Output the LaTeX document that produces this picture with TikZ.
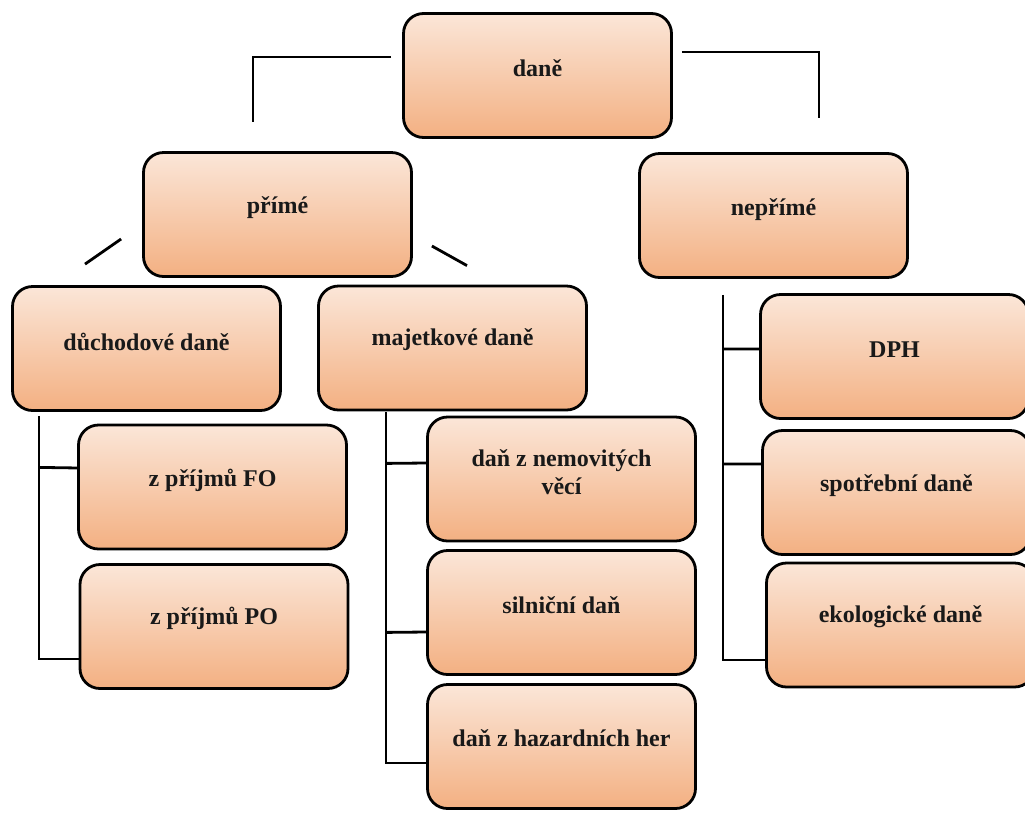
\documentclass[tikz,border=0pt]{standalone}
\usepackage{fontspec}
\setmainfont{Liberation Serif}
\usetikzlibrary{calc}
\definecolor{peachTop}{RGB}{251,230,216}
\definecolor{peachBot}{RGB}{243,176,130}
\tikzset{
  taxbox/.style={draw=black, line width=2.8pt, rounded corners=20pt,
    top color=peachTop, bottom color=peachBot,
    minimum width=268pt, minimum height=124pt, inner sep=0pt},
  lbl/.style={font=\fontsize{24}{28}\selectfont\bfseries, align=center, text=black!90, inner sep=0pt},
  conn/.style={line width=2.8pt, draw=black}
}
\begin{document}
\begin{tikzpicture}[x=1pt,y=-1pt]
\useasboundingbox (0,0) rectangle (1025,823);
\clip (0,0) rectangle (1025,823);
% boxes
\node[taxbox] (dane) at (537.5,75.5) {};
\node[taxbox] (prime) at (277.5,214.5) {};
\node[taxbox] (neprime) at (773.5,215.5) {};
\node[taxbox] (duch) at (146.5,348.5) {};
\node[taxbox] (majet) at (452.5,348) {};
\node[taxbox] (dph) at (894.5,356.5) {};
\node[taxbox] (spotr) at (896.5,492.5) {};
\node[taxbox] (ekol) at (900.5,625) {};
\node[taxbox] (fo) at (212.5,487) {};
\node[taxbox] (po) at (214,626.5) {};
\node[taxbox] (nemov) at (561.5,479) {};
\node[taxbox] (siln) at (561.5,612.5) {};
\node[taxbox] (hazard) at (561.5,746.5) {};
% labels
\node[lbl] (dane-t) at ([yshift=7pt]dane.center) {daně};
\node[lbl] (prime-t) at ([yshift=7pt]prime.center) {přímé};
\node[lbl] (neprime-t) at ([yshift=6pt]neprime.center) {nepřímé};
\node[lbl] (duch-t) at ([yshift=7pt]duch.center) {důchodové daně};
\node[lbl] (majet-t) at ([yshift=8pt]majet.center) {majetkové daně};
\node[lbl] (dph-t) at ([yshift=7pt]dph.center) {DPH};
\node[lbl] (spotr-t) at ([yshift=7pt]spotr.center) {spotřební daně};
\node[lbl] (ekol-t) at ([yshift=8pt]ekol.center) {ekologické daně};
\node[lbl] (fo-t) at ([yshift=7pt]fo.center) {z příjmů FO};
\node[lbl] (po-t) at ([yshift=8pt]po.center) {z příjmů PO};
\node[lbl] (nemov-t) at ([yshift=7pt]nemov.center) {daň z nemovitých\\věcí};
\node[lbl] (siln-t) at ([yshift=7pt]siln.center) {silniční daň};
\node[lbl] (hazard-t) at ([yshift=8pt]hazard.center) {daň z hazardních her};
% connectors
\draw[conn] ($(dane.west)+(-11,-18.5)$) -| ($(prime.north)+(-24.5,-29)$);
\draw[conn] ($(dane.east)+(9,-23.5)$) -| ($(neprime.north)+(45.5,-34)$);
\draw[conn] ($(prime.west)+(-21,24.5)$) -- ($(duch.north)+(-61.5,-21)$);
\draw[conn] ($(prime.east)+(19,31.5)$) -- ($(majet.north)+(14.5,-19)$);
% duchodove
\draw[conn] ($(duch.south)+(-107.5,4)$) |- ($(po.west)+(0,32.5)$);
\draw[conn] ($(duch.south)+(-107.5,55.5)$) -- ($(fo.west)+(2,-19)$);
% majetkove
\draw[conn] ($(majet.south)+(-66.5,1)$) |- ($(hazard.west)+(0,16.5)$);
\draw[conn] ($(majet.south)+(-66.5,52)$) -- ($(nemov.west)+(0,-16)$);
\draw[conn] ($(majet.south)+(-66.5,221)$) -- ($(siln.west)+(0,19.5)$);
% neprime
\draw[conn] ($(neprime.south)+(-50.5,16)$) |- ($(ekol.west)+(0,35)$);
\draw[conn] ($(neprime.south)+(-50.5,70)$) -- ($(dph.west)+(1,-7.5)$);
\draw[conn] ($(neprime.south)+(-50.5,185)$) -- ($(spotr.west)+(2,-28.5)$);
\end{tikzpicture}
\end{document}
